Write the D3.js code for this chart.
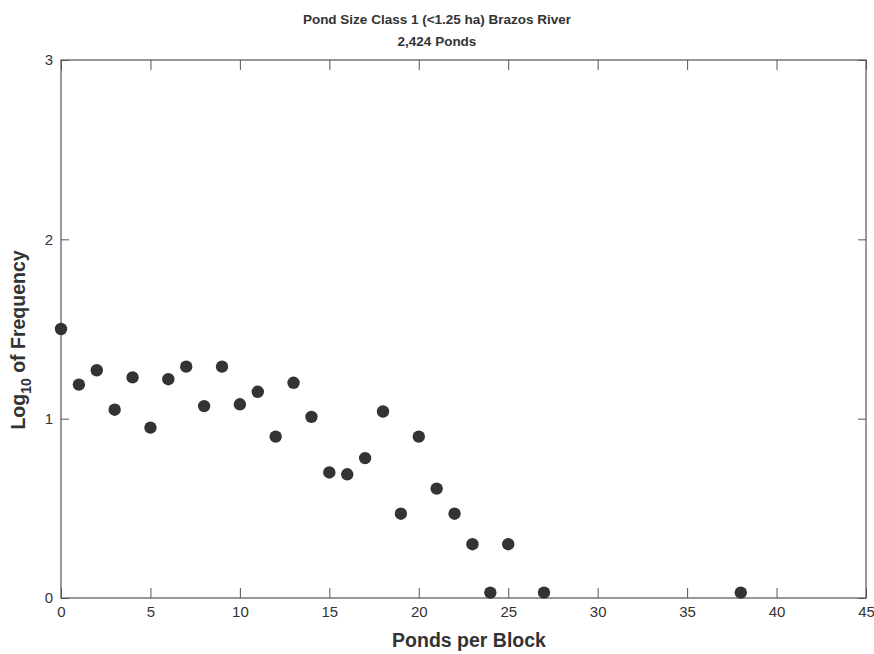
<!DOCTYPE html>
<html>
<head>
<meta charset="utf-8">
<script src="https://cdn.jsdelivr.net/npm/d3@7"></script>
<style>
  body { margin: 0; background: #fff; }
  svg text { font-family: "Liberation Sans", Arial, sans-serif; fill: #333; }
</style>
</head>
<body>
<svg id="chart" width="874" height="654"></svg>
<script>
// ponds per block vs log10 of frequency
const pondsPerBlock = [0, 1, 2, 3, 4, 5, 6, 7, 8, 9, 10, 11, 12, 13, 14, 15, 16, 17, 18, 19, 20, 21, 22, 23, 24, 25, 27, 38]
const logFreq = [1.50, 1.19, 1.27, 1.05, 1.23, 0.95, 1.22, 1.29, 1.07, 1.29, 1.08, 1.15, 0.90, 1.20, 1.01, 0.70, 0.69, 0.78, 1.04, 0.47, 0.90, 0.61, 0.47, 0.30, 0.03, 0.30, 0.03, 0.03]
const xTicks = [0, 5, 10, 15, 20, 25, 30, 35, 40, 45]
const yTicks = [0, 1, 2, 3]
const titleLines = ["Pond Size Class 1 (<1.25 ha) Brazos River", "2,424 Ponds"]

const margin = {left: 61, right: 8, top: 60, bottom: 56}
const width = 874, height = 654

const svg = d3.select("#chart")

const x = d3.scaleLinear().domain([0, 45]).range([margin.left, width - margin.right])
const y = d3.scaleLinear().domain([0, 3]).range([height - margin.bottom, margin.top])

const axisColor = "#555"

// frame
svg.append("rect")
  .attr("x", x(0)).attr("y", y(3))
  .attr("width", x(45) - x(0)).attr("height", y(0) - y(3))
  .attr("fill", "none").attr("stroke", axisColor).attr("stroke-width", 1.2)

// bottom axis: ticks point inward, labels below
const axBottom = svg.append("g").attr("transform", `translate(0,${y(0)})`)
  .call(d3.axisBottom(x).tickValues(xTicks).tickSize(-10).tickPadding(8))
axBottom.select(".domain").remove()
axBottom.selectAll("line").attr("stroke", axisColor)
axBottom.selectAll("text").attr("font-size", 15).attr("fill", "#555").style("font-family", "Liberation Sans, Arial, sans-serif")

// top ticks
const axTop = svg.append("g").attr("transform", `translate(0,${y(3)})`)
  .call(d3.axisTop(x).tickValues(xTicks).tickSize(-10).tickFormat(""))
axTop.select(".domain").remove()
axTop.selectAll("line").attr("stroke", axisColor)

// left axis
const axLeft = svg.append("g").attr("transform", `translate(${x(0)},0)`)
  .call(d3.axisLeft(y).tickValues(yTicks).tickSize(-8).tickPadding(8).tickFormat(d3.format("d")))
axLeft.select(".domain").remove()
axLeft.selectAll("line").attr("stroke", axisColor)
axLeft.selectAll("text").attr("font-size", 15).attr("fill", "#555").style("font-family", "Liberation Sans, Arial, sans-serif")

// right ticks
const axRight = svg.append("g").attr("transform", `translate(${x(45)},0)`)
  .call(d3.axisRight(y).tickValues(yTicks).tickSize(-8).tickFormat(""))
axRight.select(".domain").remove()
axRight.selectAll("line").attr("stroke", axisColor)

// points
svg.append("g").selectAll("circle")
  .data(pondsPerBlock.map((p, i) => ({p, v: logFreq[i]})))
  .join("circle")
  .attr("cx", d => x(d.p))
  .attr("cy", d => y(d.v))
  .attr("r", 6.2)
  .attr("fill", "#333")

// titles
svg.append("g").selectAll("text")
  .data(titleLines)
  .join("text")
  .attr("x", 437)
  .attr("y", (d, i) => 24 + i * 22)
  .attr("text-anchor", "middle")
  .attr("font-size", 13.5)
  .attr("font-weight", "bold")
  .text(d => d)

svg.append("text")
  .attr("x", 469).attr("y", 647)
  .attr("text-anchor", "middle")
  .attr("font-size", 19.5)
  .attr("font-weight", "bold")
  .text("Ponds per Block")

const ylab = svg.append("text")
  .attr("transform", "translate(25,340) rotate(-90)")
  .attr("text-anchor", "middle")
  .attr("font-size", 19.5)
  .attr("font-weight", "bold")
ylab.append("tspan").text("Log")
ylab.append("tspan").attr("font-size", 14).attr("dy", 6).text("10")
ylab.append("tspan").attr("dy", -6).text(" of Frequency")
</script>
</body>
</html>
